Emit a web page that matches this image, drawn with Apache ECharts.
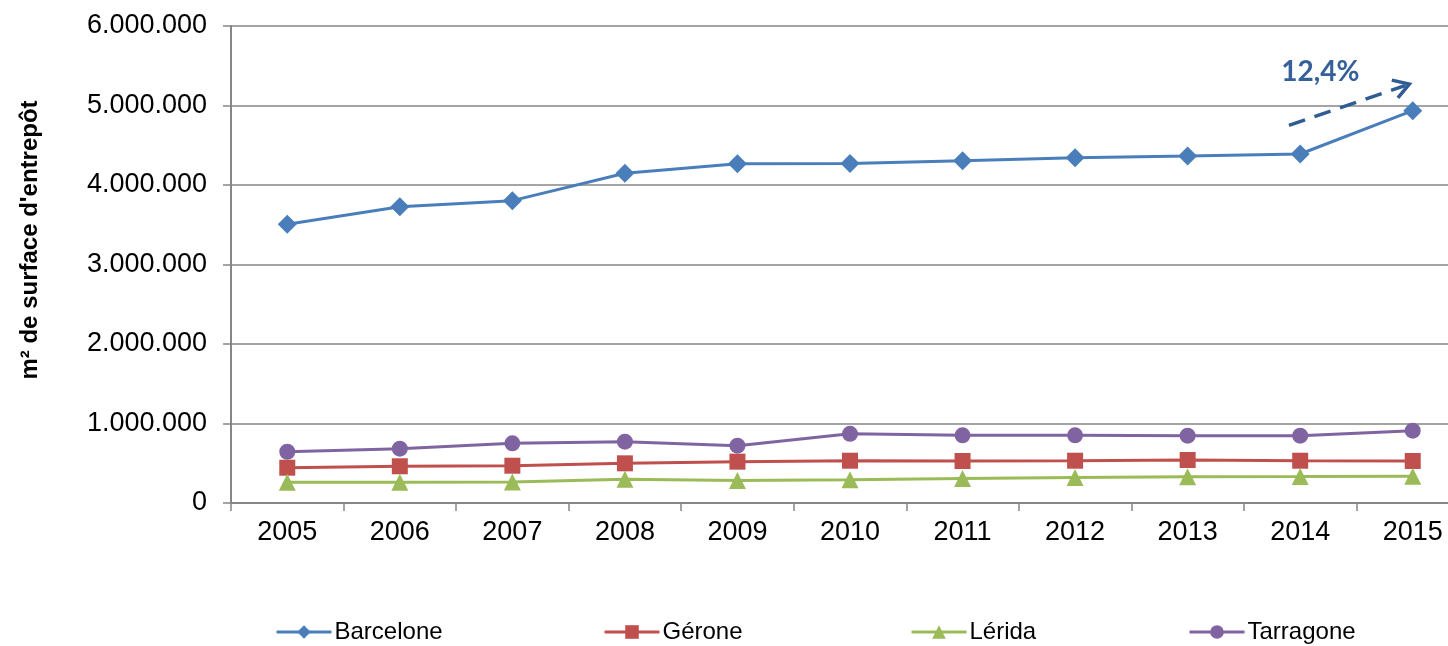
<!DOCTYPE html>
<html>
<head>
<meta charset="utf-8">
<style>
  html, body { margin: 0; padding: 0; background: #ffffff; overflow: hidden; }
  #wrap { width: 1448px; height: 646px; overflow: hidden; }
  #chart { width: 1469px; height: 646px; }
</style>
<script src="https://cdn.jsdelivr.net/npm/echarts@6/dist/echarts.min.js"></script>
</head>
<body>
<div id="wrap"><div id="chart"></div></div>
<script>
// Warehouse floor space per province (m²), 2005-2015
const years = ['2005', '2006', '2007', '2008', '2009', '2010', '2011', '2012', '2013', '2014', '2015'];
const barcelone = [3506000, 3727000, 3803000, 4147000, 4268000, 4271000, 4306000, 4344000, 4365000, 4390000, 4935000];
const gerone    = [444000, 462000, 469000, 499000, 520000, 532000, 528000, 532000, 541000, 532000, 528000];
const lerida    = [262000, 262000, 265000, 298000, 283000, 293000, 308000, 322000, 331000, 333000, 338000];
const tarragone = [645000, 683000, 751000, 771000, 721000, 870000, 851000, 851000, 847000, 847000, 910000];
const yTicks = [0, 1000000, 2000000, 3000000, 4000000, 5000000, 6000000];
const provinces = ['Barcelone', 'Gérone', 'Lérida', 'Tarragone'];

// Trend arrow for the last year (category index, value)
const arrowFrom = [8.9, 4750000];
const arrowTo = [9.97, 5270000];
const labelAt = [9.18, 5420000];

const growth = ((barcelone[10] / barcelone[9] - 1) * 100).toFixed(1).replace('.', ',') + '%';

const fmt = v => String(v).replace(/\B(?=(\d{3})+(?!\d))/g, '.');
const gray = '#868686';
const font = "'Liberation Sans', Arial, sans-serif";

const chart = echarts.init(document.getElementById('chart'), null, { renderer: 'canvas' });

function lineSeries(name, data, color, symbol, size) {
  return {
    name, type: 'line', data,
    symbol, symbolSize: size,
    lineStyle: { color, width: 3 },
    itemStyle: { color },
    emphasis: { disabled: true },
    animation: false
  };
}

// One legend block per province, spread across the bottom
const legendLefts = [275, 603, 910, 1188];
const legends = provinces.map((p, i) => ({
  left: legendLefts[i],
  top: 620,
  padding: 0,
  itemWidth: 55,
  itemHeight: 17,
  lineStyle: { width: 3 },
  textStyle: { color: '#000', fontSize: 24, fontFamily: font, padding: [0, 0, 0, -2] },
  data: [p]
}));

chart.setOption({
  animation: false,
  grid: { left: 231, right: 0, top: 26, bottom: 143, containLabel: false },
  xAxis: {
    type: 'category',
    data: years,
    boundaryGap: true,
    axisLine: { lineStyle: { color: gray, width: 2 } },
    axisTick: { show: true, length: 8, lineStyle: { color: gray, width: 1.5 } },
    axisLabel: { color: '#000', fontSize: 27, fontFamily: font, margin: 16 },
    splitLine: { show: false }
  },
  yAxis: {
    type: 'value',
    min: yTicks[0],
    max: yTicks[yTicks.length - 1],
    interval: 1000000,
    axisLine: { show: true, lineStyle: { color: gray, width: 2 } },
    axisTick: { show: true, length: 8, inside: false, lineStyle: { color: gray, width: 1.5 } },
    axisLabel: { color: '#000', fontSize: 27, fontFamily: font, margin: 24, formatter: fmt },
    splitLine: { show: true, lineStyle: { color: gray, width: 1.5 } }
  },
  legend: legends,
  series: [
    lineSeries(provinces[0], barcelone, '#4A7EBB', 'diamond', 19),
    lineSeries(provinces[1], gerone, '#C0504D', 'rect', 16),
    lineSeries(provinces[2], lerida, '#9BBB59', 'triangle', 17),
    lineSeries(provinces[3], tarragone, '#8064A2', 'circle', 16)
  ]
});

// Map a (possibly fractional) category index and value to pixels
function toPx(pt) {
  const i0 = Math.floor(pt[0]);
  const f = pt[0] - i0;
  const a = chart.convertToPixel({ xAxisIndex: 0, yAxisIndex: 0 }, [i0, pt[1]]);
  const b = chart.convertToPixel({ xAxisIndex: 0, yAxisIndex: 0 }, [i0 + 1, pt[1]]);
  return [a[0] + (b[0] - a[0]) * f, a[1]];
}

const p0 = toPx(arrowFrom);
const p1 = toPx(arrowTo);
const pl = toPx(labelAt);
const ang = Math.atan2(p1[1] - p0[1], p1[0] - p0[0]);
const head = 18, spread = 0.55;
const hA = [p1[0] - head * Math.cos(ang - spread), p1[1] - head * Math.sin(ang - spread)];
const hB = [p1[0] - head * Math.cos(ang + spread), p1[1] - head * Math.sin(ang + spread)];
const arrowColor = '#2F5C94';

chart.setOption({
  graphic: [
    {
      type: 'text',
      x: 30, y: 240,
      rotation: Math.PI / 2,
      style: {
        text: 'm² de surface d\'entrepôt',
        fill: '#000',
        font: "bold 24px 'Liberation Sans', Arial, sans-serif",
        align: 'center',
        verticalAlign: 'middle'
      }
    },
    {
      type: 'line',
      shape: { x1: p0[0], y1: p0[1], x2: p1[0] - 4 * Math.cos(ang), y2: p1[1] - 4 * Math.sin(ang) },
      style: { stroke: arrowColor, lineWidth: 3.5, lineDash: [17, 10] },
      z: 100
    },
    {
      type: 'polyline',
      shape: { points: [hA, p1, hB] },
      style: { stroke: arrowColor, lineWidth: 3.5, fill: null },
      z: 100
    },
    {
      type: 'text',
      x: pl[0], y: pl[1],
      style: {
        text: growth,
        fill: '#36609A',
        font: "bold 28px Lato, 'Open Sans', sans-serif",
        align: 'center',
        verticalAlign: 'middle'
      },
      z: 100
    }
  ]
});
</script>
</body>
</html>
